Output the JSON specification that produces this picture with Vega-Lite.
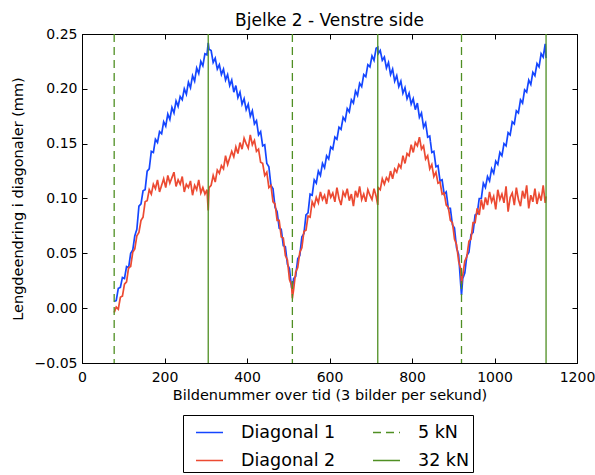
{
  "$schema": "https://vega.github.io/schema/vega-lite/v6.json",
  "width": 495,
  "height": 329,
  "autosize": {"type": "none"},
  "padding": {"left": 82, "top": 34, "right": 18, "bottom": 112},
  "title": {"text": "Bjelke 2 - Venstre side", "fontSize": 17, "fontWeight": "normal", "font": "DejaVu Sans", "color": "#000", "offset": -3, "frame": "group", "anchor": "middle"},
  "config": {
    "font": "DejaVu Sans",
    "view": {"stroke": "#000", "strokeWidth": 1},
    "axis": {"domainColor": "#000", "tickColor": "#000", "labelColor": "#000", "titleColor": "#000", "labelFont": "DejaVu Sans", "titleFont": "DejaVu Sans", "labelFontSize": 14, "titleFontSize": 14.5, "titleFontWeight": "normal", "grid": false, "tickSize": -5, "labelFlush": false, "labelOverlap": false}
  },
  "datasets": {
    "d": [
      {"x":78,"Diagonal 1":0.006,"Diagonal 2":-0.004},
      {"x":83,"Diagonal 1":0.007,"Diagonal 2":0.001},
      {"x":88,"Diagonal 1":0.018,"Diagonal 2":-0.001},
      {"x":93,"Diagonal 1":0.019,"Diagonal 2":0.010},
      {"x":98,"Diagonal 1":0.028,"Diagonal 2":0.011},
      {"x":103,"Diagonal 1":0.027,"Diagonal 2":0.022},
      {"x":108,"Diagonal 1":0.038,"Diagonal 2":0.024},
      {"x":113,"Diagonal 1":0.037,"Diagonal 2":0.037},
      {"x":118,"Diagonal 1":0.050,"Diagonal 2":0.038},
      {"x":123,"Diagonal 1":0.053,"Diagonal 2":0.051},
      {"x":128,"Diagonal 1":0.066,"Diagonal 2":0.054},
      {"x":133,"Diagonal 1":0.072,"Diagonal 2":0.066},
      {"x":138,"Diagonal 1":0.093,"Diagonal 2":0.069},
      {"x":143,"Diagonal 1":0.095,"Diagonal 2":0.080},
      {"x":148,"Diagonal 1":0.107,"Diagonal 2":0.083},
      {"x":153,"Diagonal 1":0.108,"Diagonal 2":0.097},
      {"x":158,"Diagonal 1":0.125,"Diagonal 2":0.098},
      {"x":163,"Diagonal 1":0.127,"Diagonal 2":0.108},
      {"x":168,"Diagonal 1":0.143,"Diagonal 2":0.104},
      {"x":173,"Diagonal 1":0.142,"Diagonal 2":0.113},
      {"x":178,"Diagonal 1":0.154,"Diagonal 2":0.109},
      {"x":183,"Diagonal 1":0.151,"Diagonal 2":0.117},
      {"x":188,"Diagonal 1":0.161,"Diagonal 2":0.106},
      {"x":193,"Diagonal 1":0.159,"Diagonal 2":0.112},
      {"x":198,"Diagonal 1":0.170,"Diagonal 2":0.118},
      {"x":203,"Diagonal 1":0.166,"Diagonal 2":0.110},
      {"x":208,"Diagonal 1":0.177,"Diagonal 2":0.121},
      {"x":213,"Diagonal 1":0.172,"Diagonal 2":0.114},
      {"x":218,"Diagonal 1":0.183,"Diagonal 2":0.119},
      {"x":223,"Diagonal 1":0.178,"Diagonal 2":0.124},
      {"x":228,"Diagonal 1":0.189,"Diagonal 2":0.111},
      {"x":233,"Diagonal 1":0.184,"Diagonal 2":0.117},
      {"x":238,"Diagonal 1":0.193,"Diagonal 2":0.113},
      {"x":243,"Diagonal 1":0.190,"Diagonal 2":0.120},
      {"x":248,"Diagonal 1":0.200,"Diagonal 2":0.106},
      {"x":253,"Diagonal 1":0.195,"Diagonal 2":0.113},
      {"x":258,"Diagonal 1":0.206,"Diagonal 2":0.110},
      {"x":263,"Diagonal 1":0.201,"Diagonal 2":0.116},
      {"x":268,"Diagonal 1":0.212,"Diagonal 2":0.103},
      {"x":273,"Diagonal 1":0.207,"Diagonal 2":0.112},
      {"x":278,"Diagonal 1":0.219,"Diagonal 2":0.108},
      {"x":283,"Diagonal 1":0.214,"Diagonal 2":0.117},
      {"x":288,"Diagonal 1":0.225,"Diagonal 2":0.105},
      {"x":293,"Diagonal 1":0.221,"Diagonal 2":0.110},
      {"x":298,"Diagonal 1":0.232,"Diagonal 2":0.104},
      {"x":303,"Diagonal 1":0.231,"Diagonal 2":0.108},
      {"x":306,"Diagonal 1":0.242,"Diagonal 2":0.089},
      {"x":308,"Diagonal 1":0.236,"Diagonal 2":0.110},
      {"x":313,"Diagonal 1":0.235,"Diagonal 2":0.112},
      {"x":318,"Diagonal 1":0.224,"Diagonal 2":0.121},
      {"x":323,"Diagonal 1":0.228,"Diagonal 2":0.115},
      {"x":328,"Diagonal 1":0.218,"Diagonal 2":0.126},
      {"x":333,"Diagonal 1":0.222,"Diagonal 2":0.123},
      {"x":338,"Diagonal 1":0.213,"Diagonal 2":0.130},
      {"x":343,"Diagonal 1":0.218,"Diagonal 2":0.127},
      {"x":348,"Diagonal 1":0.208,"Diagonal 2":0.139},
      {"x":353,"Diagonal 1":0.213,"Diagonal 2":0.131},
      {"x":358,"Diagonal 1":0.203,"Diagonal 2":0.137},
      {"x":363,"Diagonal 1":0.208,"Diagonal 2":0.143},
      {"x":368,"Diagonal 1":0.197,"Diagonal 2":0.138},
      {"x":373,"Diagonal 1":0.203,"Diagonal 2":0.147},
      {"x":378,"Diagonal 1":0.192,"Diagonal 2":0.141},
      {"x":383,"Diagonal 1":0.197,"Diagonal 2":0.151},
      {"x":388,"Diagonal 1":0.186,"Diagonal 2":0.145},
      {"x":393,"Diagonal 1":0.191,"Diagonal 2":0.155},
      {"x":398,"Diagonal 1":0.181,"Diagonal 2":0.150},
      {"x":403,"Diagonal 1":0.186,"Diagonal 2":0.146},
      {"x":408,"Diagonal 1":0.175,"Diagonal 2":0.158},
      {"x":413,"Diagonal 1":0.180,"Diagonal 2":0.149},
      {"x":418,"Diagonal 1":0.168,"Diagonal 2":0.153},
      {"x":423,"Diagonal 1":0.171,"Diagonal 2":0.143},
      {"x":428,"Diagonal 1":0.158,"Diagonal 2":0.145},
      {"x":433,"Diagonal 1":0.161,"Diagonal 2":0.133},
      {"x":438,"Diagonal 1":0.148,"Diagonal 2":0.132},
      {"x":443,"Diagonal 1":0.149,"Diagonal 2":0.121},
      {"x":448,"Diagonal 1":0.132,"Diagonal 2":0.124},
      {"x":453,"Diagonal 1":0.129,"Diagonal 2":0.110},
      {"x":458,"Diagonal 1":0.112,"Diagonal 2":0.112},
      {"x":463,"Diagonal 1":0.109,"Diagonal 2":0.097},
      {"x":468,"Diagonal 1":0.092,"Diagonal 2":0.095},
      {"x":473,"Diagonal 1":0.088,"Diagonal 2":0.080},
      {"x":478,"Diagonal 1":0.073,"Diagonal 2":0.080},
      {"x":483,"Diagonal 1":0.072,"Diagonal 2":0.065},
      {"x":488,"Diagonal 1":0.057,"Diagonal 2":0.064},
      {"x":493,"Diagonal 1":0.056,"Diagonal 2":0.048},
      {"x":498,"Diagonal 1":0.040,"Diagonal 2":0.044},
      {"x":503,"Diagonal 1":0.036,"Diagonal 2":0.026},
      {"x":508,"Diagonal 1":0.019,"Diagonal 2":0.021},
      {"x":510,"Diagonal 1":0.017,"Diagonal 2":0.009},
      {"x":513,"Diagonal 1":0.027,"Diagonal 2":0.017},
      {"x":518,"Diagonal 1":0.029,"Diagonal 2":0.033},
      {"x":523,"Diagonal 1":0.045,"Diagonal 2":0.037},
      {"x":528,"Diagonal 1":0.048,"Diagonal 2":0.051},
      {"x":533,"Diagonal 1":0.065,"Diagonal 2":0.055},
      {"x":538,"Diagonal 1":0.068,"Diagonal 2":0.070},
      {"x":543,"Diagonal 1":0.085,"Diagonal 2":0.071},
      {"x":548,"Diagonal 1":0.087,"Diagonal 2":0.084},
      {"x":553,"Diagonal 1":0.104,"Diagonal 2":0.083},
      {"x":558,"Diagonal 1":0.103,"Diagonal 2":0.097},
      {"x":563,"Diagonal 1":0.117,"Diagonal 2":0.093},
      {"x":568,"Diagonal 1":0.114,"Diagonal 2":0.101},
      {"x":573,"Diagonal 1":0.125,"Diagonal 2":0.096},
      {"x":578,"Diagonal 1":0.121,"Diagonal 2":0.106},
      {"x":583,"Diagonal 1":0.132,"Diagonal 2":0.099},
      {"x":588,"Diagonal 1":0.128,"Diagonal 2":0.103},
      {"x":593,"Diagonal 1":0.139,"Diagonal 2":0.095},
      {"x":598,"Diagonal 1":0.136,"Diagonal 2":0.108},
      {"x":603,"Diagonal 1":0.147,"Diagonal 2":0.101},
      {"x":608,"Diagonal 1":0.145,"Diagonal 2":0.105},
      {"x":613,"Diagonal 1":0.156,"Diagonal 2":0.097},
      {"x":618,"Diagonal 1":0.154,"Diagonal 2":0.110},
      {"x":623,"Diagonal 1":0.165,"Diagonal 2":0.100},
      {"x":628,"Diagonal 1":0.163,"Diagonal 2":0.094},
      {"x":633,"Diagonal 1":0.174,"Diagonal 2":0.106},
      {"x":638,"Diagonal 1":0.171,"Diagonal 2":0.102},
      {"x":643,"Diagonal 1":0.182,"Diagonal 2":0.109},
      {"x":648,"Diagonal 1":0.179,"Diagonal 2":0.098},
      {"x":653,"Diagonal 1":0.190,"Diagonal 2":0.104},
      {"x":658,"Diagonal 1":0.187,"Diagonal 2":0.093},
      {"x":663,"Diagonal 1":0.198,"Diagonal 2":0.107},
      {"x":668,"Diagonal 1":0.194,"Diagonal 2":0.101},
      {"x":673,"Diagonal 1":0.205,"Diagonal 2":0.111},
      {"x":678,"Diagonal 1":0.202,"Diagonal 2":0.099},
      {"x":683,"Diagonal 1":0.213,"Diagonal 2":0.104},
      {"x":688,"Diagonal 1":0.211,"Diagonal 2":0.097},
      {"x":693,"Diagonal 1":0.222,"Diagonal 2":0.108},
      {"x":698,"Diagonal 1":0.220,"Diagonal 2":0.103},
      {"x":703,"Diagonal 1":0.230,"Diagonal 2":0.099},
      {"x":708,"Diagonal 1":0.226,"Diagonal 2":0.109},
      {"x":713,"Diagonal 1":0.237,"Diagonal 2":0.102},
      {"x":717,"Diagonal 1":0.238,"Diagonal 2":0.094},
      {"x":718,"Diagonal 1":0.232,"Diagonal 2":0.110},
      {"x":723,"Diagonal 1":0.235,"Diagonal 2":0.108},
      {"x":728,"Diagonal 1":0.226,"Diagonal 2":0.118},
      {"x":733,"Diagonal 1":0.229,"Diagonal 2":0.113},
      {"x":738,"Diagonal 1":0.219,"Diagonal 2":0.119},
      {"x":743,"Diagonal 1":0.224,"Diagonal 2":0.116},
      {"x":748,"Diagonal 1":0.213,"Diagonal 2":0.125},
      {"x":753,"Diagonal 1":0.218,"Diagonal 2":0.118},
      {"x":758,"Diagonal 1":0.207,"Diagonal 2":0.127},
      {"x":763,"Diagonal 1":0.212,"Diagonal 2":0.124},
      {"x":768,"Diagonal 1":0.202,"Diagonal 2":0.131},
      {"x":773,"Diagonal 1":0.207,"Diagonal 2":0.128},
      {"x":778,"Diagonal 1":0.196,"Diagonal 2":0.139},
      {"x":783,"Diagonal 1":0.201,"Diagonal 2":0.132},
      {"x":788,"Diagonal 1":0.191,"Diagonal 2":0.141},
      {"x":793,"Diagonal 1":0.196,"Diagonal 2":0.139},
      {"x":798,"Diagonal 1":0.186,"Diagonal 2":0.149},
      {"x":803,"Diagonal 1":0.191,"Diagonal 2":0.142},
      {"x":808,"Diagonal 1":0.181,"Diagonal 2":0.151},
      {"x":813,"Diagonal 1":0.187,"Diagonal 2":0.148},
      {"x":818,"Diagonal 1":0.174,"Diagonal 2":0.156},
      {"x":823,"Diagonal 1":0.178,"Diagonal 2":0.145},
      {"x":828,"Diagonal 1":0.165,"Diagonal 2":0.148},
      {"x":833,"Diagonal 1":0.169,"Diagonal 2":0.136},
      {"x":838,"Diagonal 1":0.156,"Diagonal 2":0.139},
      {"x":843,"Diagonal 1":0.157,"Diagonal 2":0.127},
      {"x":848,"Diagonal 1":0.142,"Diagonal 2":0.131},
      {"x":853,"Diagonal 1":0.143,"Diagonal 2":0.120},
      {"x":858,"Diagonal 1":0.129,"Diagonal 2":0.124},
      {"x":863,"Diagonal 1":0.130,"Diagonal 2":0.114},
      {"x":868,"Diagonal 1":0.116,"Diagonal 2":0.115},
      {"x":873,"Diagonal 1":0.117,"Diagonal 2":0.104},
      {"x":878,"Diagonal 1":0.104,"Diagonal 2":0.105},
      {"x":883,"Diagonal 1":0.106,"Diagonal 2":0.094},
      {"x":888,"Diagonal 1":0.091,"Diagonal 2":0.092},
      {"x":893,"Diagonal 1":0.091,"Diagonal 2":0.080},
      {"x":898,"Diagonal 1":0.076,"Diagonal 2":0.078},
      {"x":903,"Diagonal 1":0.073,"Diagonal 2":0.063},
      {"x":908,"Diagonal 1":0.055,"Diagonal 2":0.058},
      {"x":913,"Diagonal 1":0.049,"Diagonal 2":0.043},
      {"x":918,"Diagonal 1":0.022,"Diagonal 2":0.036},
      {"x":920,"Diagonal 1":0.012,"Diagonal 2":0.022},
      {"x":923,"Diagonal 1":0.027,"Diagonal 2":0.030},
      {"x":928,"Diagonal 1":0.032,"Diagonal 2":0.043},
      {"x":933,"Diagonal 1":0.048,"Diagonal 2":0.047},
      {"x":938,"Diagonal 1":0.051,"Diagonal 2":0.061},
      {"x":943,"Diagonal 1":0.067,"Diagonal 2":0.063},
      {"x":948,"Diagonal 1":0.069,"Diagonal 2":0.078},
      {"x":953,"Diagonal 1":0.085,"Diagonal 2":0.078},
      {"x":958,"Diagonal 1":0.086,"Diagonal 2":0.091},
      {"x":963,"Diagonal 1":0.100,"Diagonal 2":0.085},
      {"x":968,"Diagonal 1":0.100,"Diagonal 2":0.099},
      {"x":973,"Diagonal 1":0.114,"Diagonal 2":0.090},
      {"x":978,"Diagonal 1":0.110,"Diagonal 2":0.101},
      {"x":983,"Diagonal 1":0.120,"Diagonal 2":0.094},
      {"x":988,"Diagonal 1":0.116,"Diagonal 2":0.106},
      {"x":993,"Diagonal 1":0.127,"Diagonal 2":0.097},
      {"x":998,"Diagonal 1":0.123,"Diagonal 2":0.102},
      {"x":1003,"Diagonal 1":0.134,"Diagonal 2":0.090},
      {"x":1008,"Diagonal 1":0.131,"Diagonal 2":0.108},
      {"x":1013,"Diagonal 1":0.142,"Diagonal 2":0.099},
      {"x":1018,"Diagonal 1":0.139,"Diagonal 2":0.104},
      {"x":1023,"Diagonal 1":0.150,"Diagonal 2":0.096},
      {"x":1028,"Diagonal 1":0.148,"Diagonal 2":0.111},
      {"x":1033,"Diagonal 1":0.160,"Diagonal 2":0.088},
      {"x":1038,"Diagonal 1":0.158,"Diagonal 2":0.101},
      {"x":1043,"Diagonal 1":0.170,"Diagonal 2":0.105},
      {"x":1048,"Diagonal 1":0.168,"Diagonal 2":0.094},
      {"x":1053,"Diagonal 1":0.180,"Diagonal 2":0.110},
      {"x":1058,"Diagonal 1":0.178,"Diagonal 2":0.099},
      {"x":1063,"Diagonal 1":0.190,"Diagonal 2":0.093},
      {"x":1068,"Diagonal 1":0.187,"Diagonal 2":0.107},
      {"x":1073,"Diagonal 1":0.199,"Diagonal 2":0.100},
      {"x":1078,"Diagonal 1":0.197,"Diagonal 2":0.112},
      {"x":1083,"Diagonal 1":0.208,"Diagonal 2":0.091},
      {"x":1088,"Diagonal 1":0.204,"Diagonal 2":0.103},
      {"x":1093,"Diagonal 1":0.215,"Diagonal 2":0.097},
      {"x":1098,"Diagonal 1":0.212,"Diagonal 2":0.109},
      {"x":1103,"Diagonal 1":0.223,"Diagonal 2":0.095},
      {"x":1108,"Diagonal 1":0.220,"Diagonal 2":0.104},
      {"x":1113,"Diagonal 1":0.232,"Diagonal 2":0.098},
      {"x":1118,"Diagonal 1":0.229,"Diagonal 2":0.112},
      {"x":1123,"Diagonal 1":0.241,"Diagonal 2":0.096},
      {"x":1125,"Diagonal 1":0.228,"Diagonal 2":0.102}
    ],
    "v": [
      {"x": 78, "series": "5 kN"},
      {"x": 510, "series": "5 kN"},
      {"x": 920, "series": "5 kN"},
      {"x": 306, "series": "32 kN"},
      {"x": 717, "series": "32 kN"},
      {"x": 1125, "series": "32 kN"}
    ]
  },
  "layer": [
    {
      "data": {"name": "d"},
      "transform": [
        {"fold": ["Diagonal 1", "Diagonal 2"], "as": ["series", "value"]},
        {"filter": {"field": "series", "equal": "Diagonal 1"}}
      ],
      "mark": {"type": "line", "strokeWidth": 1.7, "clip": true},
      "encoding": {
        "x": {"field": "x", "type": "quantitative", "scale": {"domain": [0, 1200], "nice": false, "zero": false},
              "axis": {"orient": "bottom", "values": [0, 200, 400, 600, 800, 1000, 1200], "format": "d", "labelPadding": 12, "title": "Bildenummer over tid (3 bilder per sekund)", "titlePadding": 4}},
        "y": {"field": "value", "type": "quantitative", "scale": {"domain": [-0.05, 0.25], "nice": false, "zero": false},
              "axis": {"orient": "left", "values": [-0.05, 0, 0.05, 0.1, 0.15, 0.2, 0.25], "format": ".2f", "labelPadding": 10, "title": "Lengdeendring i diagonaler (mm)", "titlePadding": 9}},
        "color": {"field": "series", "type": "nominal",
                  "scale": {"domain": ["Diagonal 1", "Diagonal 2", "5 kN", "32 kN"], "range": ["#1446ff", "#ec4a32", "#4f8f23", "#4f8f23"]},
                  "legend": {"orient": "none", "legendX": 101, "legendY": 381, "columns": 2, "gridAlign": "all", "title": null, "strokeColor": "#000", "cornerRadius": 0, "padding": 3, "symbolOffset": 9, "labelFontSize": 17.5, "labelFont": "DejaVu Sans", "labelColor": "#000", "labelAlign": "left", "symbolType": "stroke", "symbolSize": 729, "symbolStrokeWidth": 1.5, "labelOffset": 17, "columnPadding": 27, "rowPadding": 5, "fillColor": "#fff"}},
        "strokeDash": {"field": "series", "type": "nominal",
                  "scale": {"domain": ["Diagonal 1", "Diagonal 2", "5 kN", "32 kN"], "range": [[1, 0], [1, 0], [8, 5], [1, 0]]},
                  "legend": {"orient": "none", "legendX": 101, "legendY": 381, "columns": 2, "gridAlign": "all", "title": null, "strokeColor": "#000", "cornerRadius": 0, "padding": 3, "symbolOffset": 9, "labelFontSize": 17.5, "labelFont": "DejaVu Sans", "labelColor": "#000", "labelAlign": "left", "symbolType": "stroke", "symbolSize": 729, "symbolStrokeWidth": 1.5, "labelOffset": 17, "columnPadding": 27, "rowPadding": 5, "fillColor": "#fff"}}
      }
    },
    {
      "data": {"name": "d"},
      "transform": [
        {"fold": ["Diagonal 1", "Diagonal 2"], "as": ["series", "value"]},
        {"filter": {"field": "series", "equal": "Diagonal 2"}}
      ],
      "mark": {"type": "line", "strokeWidth": 1.7, "clip": true},
      "encoding": {
        "x": {"field": "x", "type": "quantitative",
              "axis": {"orient": "top", "values": [0, 200, 400, 600, 800, 1000, 1200], "labels": false, "title": null, "domain": false}},
        "y": {"field": "value", "type": "quantitative",
              "axis": {"orient": "right", "values": [-0.05, 0, 0.05, 0.1, 0.15, 0.2, 0.25], "labels": false, "title": null, "domain": false}},
        "color": {"field": "series", "type": "nominal"},
        "strokeDash": {"field": "series", "type": "nominal"}
      }
    },
    {
      "data": {"name": "v"},
      "mark": {"type": "rule", "strokeWidth": 1.3},
      "encoding": {
        "x": {"field": "x", "type": "quantitative", "axis": null},
        "color": {"field": "series", "type": "nominal"},
        "strokeDash": {"field": "series", "type": "nominal"}
      }
    }
  ],
  "resolve": {"axis": {"x": "independent", "y": "independent"}}
}
